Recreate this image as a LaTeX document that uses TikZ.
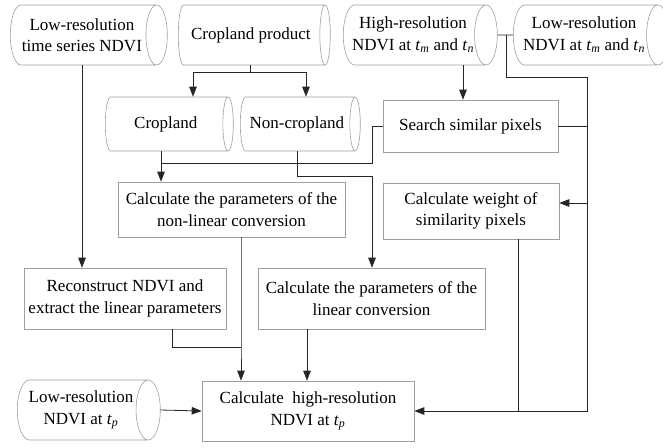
\documentclass[tikz,border=0pt]{standalone}
\usepackage{fontspec}
\setmainfont{Liberation Serif}
\usetikzlibrary{shapes.geometric,arrows.meta}
\newcommand{\tsub}[1]{\textit{t}\textsubscript{\textit{#1}}}
\begin{document}
\begin{tikzpicture}[x=1pt, y=-1pt, line width=0.8pt,
    every node/.style={font=\fontsize{17}{21.5}\selectfont, align=center, inner sep=1pt},
    datacyl/.style={cylinder, shape border rotate=0, aspect=0.6, inner xsep=0pt, anchor=west, draw=gray!75, line width=0.6pt},
    stepbox/.style={rectangle, draw=gray!75, line width=0.6pt},
    flow/.style={black!85, -{Triangle[length=10pt,width=7.5pt]}},
    link/.style={black!85}]
    \useasboundingbox (0,0) rectangle (663,447);
    % data sources
    \node[datacyl, minimum height=157, minimum width=60] (lrts) at (10,35) {Low-resolution\\time series NDVI};
    \node[datacyl, minimum height=152, minimum width=60] (cprod) at (178,35) {Cropland product};
    \node[datacyl, minimum height=154, minimum width=60] (hres) at (343,35) {High-resolution\\NDVI at \tsub{m} and \tsub{n}};
    \node[datacyl, minimum height=156, minimum width=60] (lrmn) at (513,35) {Low-resolution\\NDVI at \tsub{m} and \tsub{n}};
    \node[datacyl, minimum height=128, minimum width=54] (crop) at (105,124) {Cropland};
    \node[datacyl, minimum height=120, minimum width=54] (noncrop) at (240,124) {Non-cropland};
    \node[datacyl, minimum height=143, minimum width=60] (lrtp) at (17,410) {Low-resolution\\NDVI at \tsub{p}};
    % processing steps
    \node[stepbox, minimum width=175, minimum height=52] (search) at (470.5,126) {Search similar pixels};
    \node[stepbox, minimum width=227, minimum height=55] (nonlin) at (231.5,209.5) {Calculate the parameters of the\\non-linear conversion};
    \node[stepbox, minimum width=176, minimum height=56] (weight) at (471,211) {Calculate weight of\\similarity pixels};
    \node[stepbox, minimum width=202, minimum height=61] (recon) at (125,298.5) {Reconstruct NDVI and\\extract the linear parameters};
    \node[stepbox, minimum width=227, minimum height=61] (lin) at (371.5,298.5) {Calculate the parameters of the\\linear conversion};
    \node[stepbox, minimum width=212, minimum height=60] (final) at (308,411) {Calculate\ \ high-resolution\\NDVI at \tsub{p}};
    % columns and bend points
    \coordinate (lrtsdrop) at (82,0);
    \coordinate (cropdrop) at (161,0);
    \coordinate (recdrop) at (172,0);
    \coordinate (cropin) at (193,0);
    \coordinate (ncdrop) at (297,0);
    \coordinate (ncin) at (306,0);
    \coordinate (lindrop) at (307,0);
    \coordinate (hresdrop) at (463,0);
    \coordinate (wtdrop) at (518,0);
    \coordinate (split) at (250,72);
    \coordinate (hrjoin) at (506,35);
    \coordinate (bustop) at (587,77);
    \coordinate (srchbend) at (372,163);
    \coordinate (ncbend) at (372,176);
    \coordinate (wtin) at (587,203);
    \coordinate (recjoin) at (241,347);
    % connectors
    \draw[link] (split |- cprod.south) -- (split);
    \draw[flow] (split) -| (cropin |- crop.north);
    \draw[flow] (split) -| (ncin |- noncrop.north);
    \draw[flow] (lrtsdrop |- lrts.south) -- (lrtsdrop |- recon.north);
    \draw[flow] (cropdrop |- crop.south) -- (cropdrop |- nonlin.north);
    \draw[link] (search.west) -| (srchbend) -- (cropdrop |- srchbend);
    \draw[flow] (ncdrop |- noncrop.south) |- (ncbend) -- (ncbend |- lin.north);
    \draw[flow] (hresdrop |- hres.south) -- (hresdrop |- search.north);
    \draw[link] (hres.east) -- (lrmn.west);
    \draw[flow] (hrjoin) |- (bustop) |- (final.east);
    \draw[link] (search.east) -- (search.east -| bustop);
    \draw[flow] (wtin) -- (wtin -| weight.east);
    \draw[link] (wtdrop |- weight.south) -- (wtdrop |- final.east);
    \draw[flow] (recjoin |- nonlin.south) -- (recjoin) -- (recjoin |- final.north);
    \draw[link] (recdrop |- recon.south) |- (recjoin);
    \draw[flow] (lindrop |- lin.south) -- (lindrop |- final.north);
    \draw[flow] (lrtp.east) -- (final.west);
\end{tikzpicture}
\end{document}
